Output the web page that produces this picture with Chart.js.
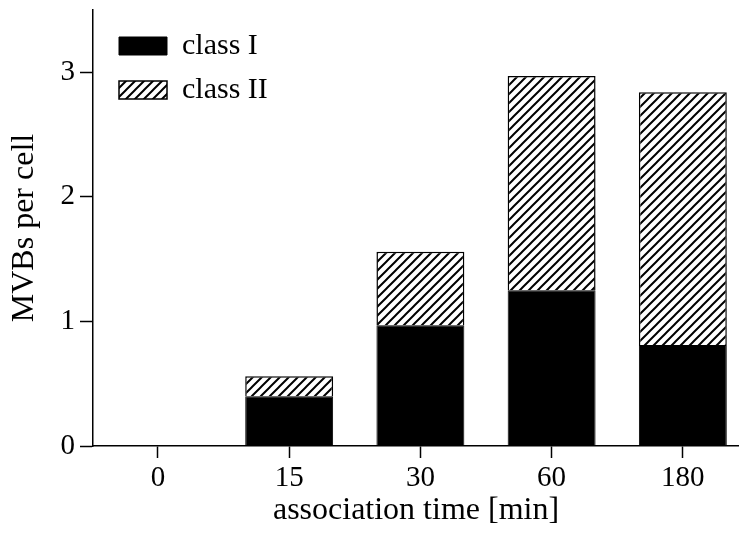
<!DOCTYPE html>
<html><head><meta charset="utf-8">
<script src="https://cdn.jsdelivr.net/npm/chart.js@4"></script>
<style>html,body{margin:0;padding:0;background:#fff;overflow:hidden}</style>
</head><body>
<canvas id="c" width="739" height="534"></canvas>
<script>
const categories = ['0', '15', '30', '60', '180'];
const classI = [0, 0.40, 0.97, 1.25, 0.81];
const classII = [0, 0.16, 0.59, 1.72, 2.03];
const yTicks = [0, 1, 2, 3];
const seriesNames = ['class I', 'class II'];

const FAM = "'Liberation Serif', 'Times New Roman', serif";
const canvas = document.getElementById('c');
const ctx = canvas.getContext('2d');

function hatchPattern() {
  const s = 9;
  const t = document.createElement('canvas');
  t.width = s; t.height = s;
  const g = t.getContext('2d');
  g.fillStyle = '#fff'; g.fillRect(0, 0, s, s);
  g.strokeStyle = '#000'; g.lineWidth = 2;
  g.beginPath();
  g.moveTo(-1, s + 1); g.lineTo(s + 1, -1);
  g.moveTo(-s / 2 - 1, s / 2 + 1); g.lineTo(s / 2 + 1, -s / 2 - 1);
  g.moveTo(s / 2 - 1, s * 1.5 + 1); g.lineTo(s * 1.5 + 1, s / 2 - 1);
  g.stroke();
  return ctx.createPattern(t, 'repeat');
}
const hatch = hatchPattern();

const legendShift = {
  id: 'legendShift',
  afterLayout(chart) {
    if (chart.legend) { chart.legend.left += 12; chart.legend.top += 17; }
  }
};

new Chart(ctx, {
  type: 'bar',
  data: {
    datasets: [
      { label: seriesNames[0], data: classI.map((v, i) => ({ x: i, y: v })),
        backgroundColor: '#000', borderColor: '#000', borderWidth: 1,
        categoryPercentage: 1, barPercentage: 0.67 },
      { label: seriesNames[1], data: classII.map((v, i) => ({ x: i, y: v })),
        backgroundColor: hatch, borderColor: '#000', borderWidth: 1.5,
        categoryPercentage: 1, barPercentage: 0.67 }
    ]
  },
  options: {
    responsive: false,
    animation: false,
    layout: { padding: { left: 0, right: 0, top: 10, bottom: 0 } },
    plugins: {
      tooltip: { enabled: false },
      legend: {
        position: 'chartArea', align: 'start',
        labels: { boxWidth: 48, boxHeight: 18, padding: 14, color: '#000',
                  font: { family: FAM, size: 30 } }
      }
    },
    scales: {
      x: {
        type: 'linear', stacked: true, min: -0.495, max: 4.428, offset: false,
        afterBuildTicks: s => { s.ticks = categories.map((_, i) => ({ value: i })); },
        afterFit: s => { s.height = 88; s.paddingLeft = 0; s.paddingRight = 0; },
        grid: { display: true, offset: false, drawOnChartArea: false, drawTicks: true, tickLength: 12,
                tickWidth: 1.5, tickColor: '#000' },
        border: { display: true, color: '#000', width: 1.5 },
        ticks: { color: '#000', font: { family: FAM, size: 29 }, padding: 3,
                 maxRotation: 0, autoSkip: false, callback: v => categories[v] },
        title: { display: true, text: 'association time [min]', color: '#000',
                 font: { family: FAM, size: 32 }, padding: { top: 0, bottom: 4 } }
      },
      y: {
        stacked: true, min: 0, max: 3.5,
        afterBuildTicks: s => { s.ticks = yTicks.map(v => ({ value: v })); },
        afterFit: s => { s.width = 93; s.paddingTop = 0; s.paddingBottom = 0; },
        grid: { display: true, drawOnChartArea: false, drawTicks: true, tickLength: 13,
                tickWidth: 1.5, tickColor: '#000' },
        border: { display: true, color: '#000', width: 1.5 },
        ticks: { color: '#000', font: { family: FAM, size: 29 }, padding: 5 },
        title: { display: true, text: 'MVBs per cell', color: '#000',
                 font: { family: FAM, size: 32 }, padding: { top: 5, bottom: 0 } }
      }
    }
  },
  plugins: [legendShift]
});
</script>
</body></html>
